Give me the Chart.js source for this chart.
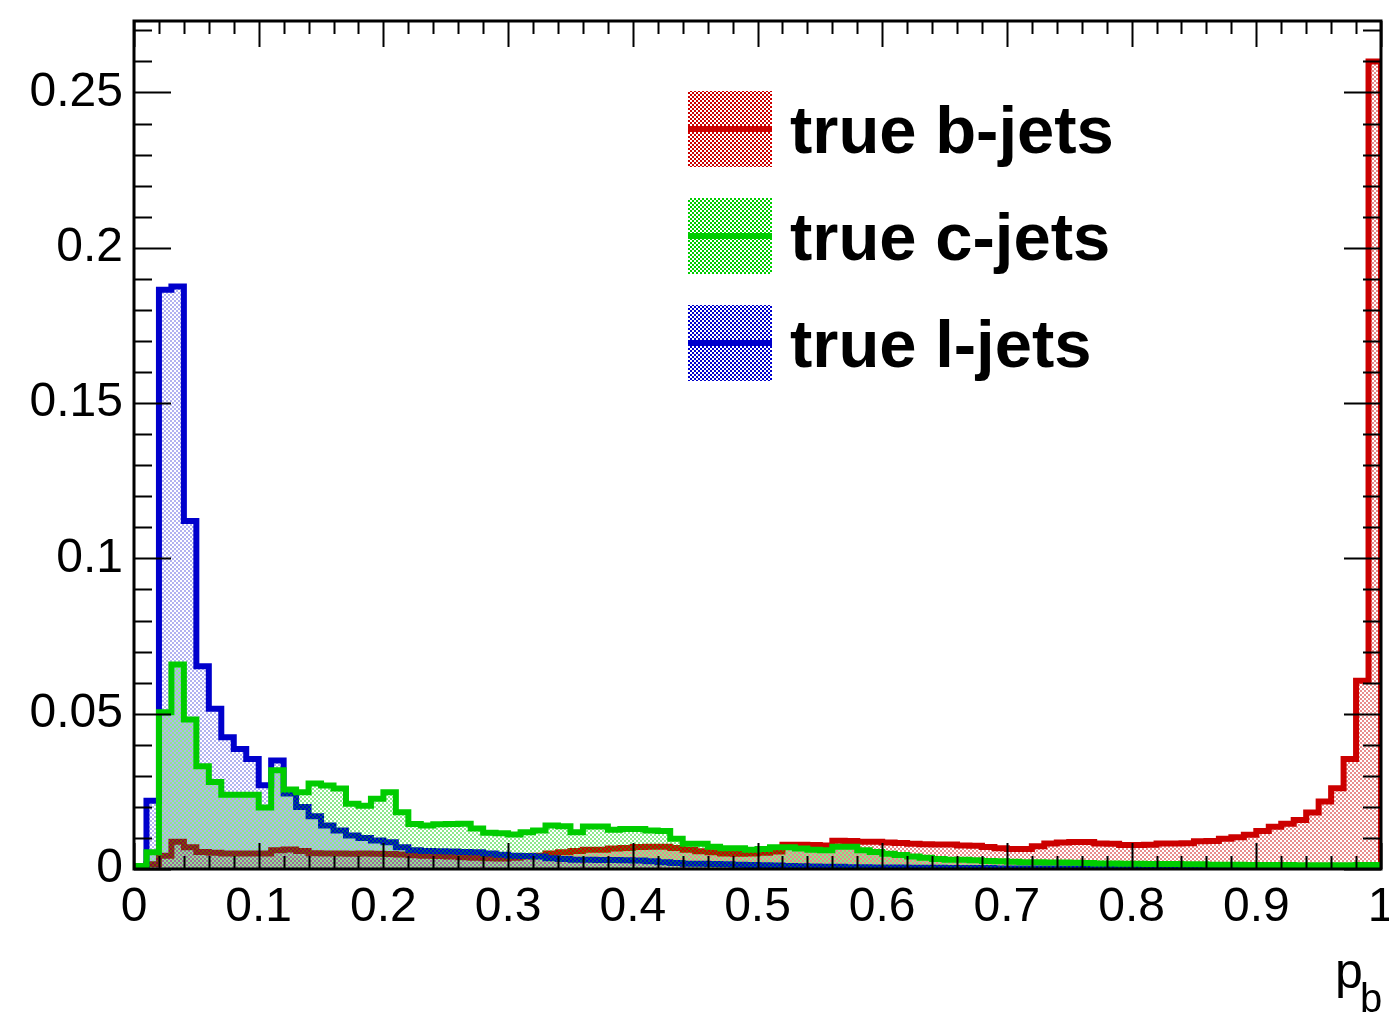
<!DOCTYPE html>
<html>
<head>
<meta charset="utf-8">
<title>p_b by jet flavour</title>
<script src="https://cdn.jsdelivr.net/npm/chart.js@4.4.1/dist/chart.umd.min.js"></script>
<style>
  html, body { margin: 0; padding: 0; background: #fff; }
  #wrap { width: 1389px; height: 1015px; }
</style>
</head>
<body>
<div id="wrap"><canvas id="hist"></canvas></div>
<script>
// p_b distributions for each true jet flavour, 100 bins on [0, 1], unit area
const xMin = 0, xMax = 1, nBins = 100;

const bJets = [
  0.0000, 0.0015, 0.0043, 0.0088, 0.0070, 0.0055, 0.0052, 0.0050, 0.0050, 0.0050,
  0.0050, 0.0060, 0.0063, 0.0058, 0.0051, 0.0050, 0.0050, 0.0049, 0.0050, 0.0049,
  0.0048, 0.0047, 0.0044, 0.0043, 0.0042, 0.0040, 0.0038, 0.0036, 0.0035, 0.0034,
  0.0036, 0.0040, 0.0043, 0.0050, 0.0054, 0.0058, 0.0062, 0.0062, 0.0066, 0.0068,
  0.0071, 0.0072, 0.0072, 0.0068, 0.0062, 0.0057, 0.0054, 0.0050, 0.0049, 0.0050,
  0.0052, 0.0056, 0.0078, 0.0078, 0.0077, 0.0076, 0.0091, 0.0090, 0.0088, 0.0088,
  0.0085, 0.0084, 0.0081, 0.0080, 0.0079, 0.0079, 0.0076, 0.0075, 0.0071, 0.0067,
  0.0064, 0.0064, 0.0073, 0.0082, 0.0085, 0.0087, 0.0087, 0.0082, 0.0081, 0.0077,
  0.0077, 0.0078, 0.0082, 0.0082, 0.0083, 0.0089, 0.0090, 0.0097, 0.0102, 0.0110,
  0.0122, 0.0136, 0.0146, 0.0158, 0.0182, 0.0217, 0.0260, 0.0354, 0.0606, 0.2600
];

const cJets = [
  0.0010, 0.0054, 0.0505, 0.0658, 0.0481, 0.0331, 0.0280, 0.0239, 0.0239, 0.0239,
  0.0198, 0.0318, 0.0256, 0.0247, 0.0275, 0.0269, 0.0259, 0.0210, 0.0204, 0.0226,
  0.0247, 0.0183, 0.0145, 0.0140, 0.0144, 0.0145, 0.0146, 0.0130, 0.0117, 0.0115,
  0.0111, 0.0118, 0.0124, 0.0140, 0.0138, 0.0118, 0.0137, 0.0137, 0.0126, 0.0129,
  0.0129, 0.0124, 0.0122, 0.0097, 0.0081, 0.0081, 0.0072, 0.0067, 0.0067, 0.0062,
  0.0064, 0.0070, 0.0070, 0.0066, 0.0062, 0.0060, 0.0072, 0.0072, 0.0060, 0.0055,
  0.0049, 0.0045, 0.0040, 0.0036, 0.0032, 0.0030, 0.0030, 0.0028, 0.0026, 0.0025,
  0.0023, 0.0022, 0.0022, 0.0021, 0.0021, 0.0020, 0.0019, 0.0018, 0.0018, 0.0017,
  0.0017, 0.0016, 0.0016, 0.0016, 0.0015, 0.0015, 0.0014, 0.0014, 0.0014, 0.0013,
  0.0013, 0.0013, 0.0013, 0.0012, 0.0012, 0.0012, 0.0012, 0.0012, 0.0013, 0.0013
];

const lJets = [
  0.0005, 0.0220, 0.1865, 0.1875, 0.1120, 0.0653, 0.0516, 0.0424, 0.0386, 0.0354,
  0.0270, 0.0349, 0.0243, 0.0200, 0.0170, 0.0140, 0.0124, 0.0108, 0.0100, 0.0092,
  0.0086, 0.0070, 0.0060, 0.0058, 0.0057, 0.0056, 0.0055, 0.0054, 0.0050, 0.0046,
  0.0043, 0.0042, 0.0040, 0.0035, 0.0032, 0.0030, 0.0030, 0.0029, 0.0029, 0.0028,
  0.0027, 0.0025, 0.0022, 0.0019, 0.0017, 0.0017, 0.0016, 0.0015, 0.0014, 0.0013,
  0.0012, 0.0011, 0.0010, 0.0009, 0.0008, 0.0007, 0.0007, 0.0006, 0.0006, 0.0005,
  0.0005, 0.0005, 0.0004, 0.0004, 0.0004, 0.0003, 0.0003, 0.0003, 0.0003, 0.0002,
  0.0002, 0.0002, 0.0002, 0.0002, 0.0002, 0.0002, 0.0001, 0.0001, 0.0001, 0.0001,
  0.0001, 0.0001, 0.0001, 0.0001, 0.0001, 0.0001, 0.0001, 0.0001, 0.0001, 0.0001,
  0.0001, 0.0001, 0.0001, 0.0001, 0.0001, 0.0001, 0.0001, 0.0001, 0.0001, 0.0001
];

const seriesLabels = ['true b-jets', 'true c-jets', 'true l-jets'];
const seriesColors = ['#cc0000', '#00cc00', '#0000cc'];

const xTicks = [0, 0.1, 0.2, 0.3, 0.4, 0.5, 0.6, 0.7, 0.8, 0.9, 1];
const xTickLabels = ['0', '0.1', '0.2', '0.3', '0.4', '0.5', '0.6', '0.7', '0.8', '0.9', '1'];
const yTicks = [0, 0.05, 0.1, 0.15, 0.2, 0.25];
const yTickLabels = ['0', '0.05', '0.1', '0.15', '0.2', '0.25'];
const yMax = 0.273;

const FONT = '"Liberation Sans", Arial, Helvetica, sans-serif';
Chart.defaults.font.family = FONT;
Chart.defaults.color = '#000';

const canvas = document.getElementById('hist');
const mainCtx = canvas.getContext('2d');

// ROOT-like dotted fill: 2px checker, coloured cells on transparent
function checker(color, alpha, shift) {
  const c = document.createElement('canvas');
  c.width = 4; c.height = 4;
  const g = c.getContext('2d');
  g.globalAlpha = alpha;
  g.fillStyle = color;
  g.fillRect(shift, 0, 2, 2);
  g.fillRect((shift + 2) % 4, 2, 2, 2);
  return mainCtx.createPattern(c, 'repeat');
}

// bin low edges + closing point so the outline drops back to zero at xMax
function histPoints(values) {
  const w = (xMax - xMin) / nBins;
  const pts = values.map((v, i) => ({ x: xMin + i * w, y: v }));
  pts.push({ x: xMax, y: 0 });
  return pts;
}

const series = [bJets, cJets, lJets];
const drawOrder = [3, 1, 2];   // c-jets on top, then l-jets, b-jets underneath
const fillAlpha = [0.45, 0.45, 0.3];
const fillShift = [2, 0, 2];

const datasets = series.map((vals, i) => ({
  label: seriesLabels[i],
  data: histPoints(vals),
  borderColor: seriesColors[i],
  backgroundColor: checker(seriesColors[i], fillAlpha[i], fillShift[i]),
  legendFill: checker(seriesColors[i], 1, 0),
  borderWidth: 6,
  borderJoinStyle: 'miter',
  borderCapStyle: 'butt',
  stepped: true,
  fill: 'origin',
  pointRadius: 0,
  order: drawOrder[i],
  clip: 0
}));

// frame with inward ticks on all four sides
const rootFrame = {
  id: 'rootFrame',
  afterDatasetsDraw(chart) {
    const { ctx, chartArea: a, scales: { x, y } } = chart;
    ctx.save();
    ctx.strokeStyle = '#000';
    ctx.lineWidth = 2;
    ctx.beginPath();
    for (let k = 0; k <= 50; k++) {
      const px = Math.round(x.getPixelForValue(k * 0.02)) + 0.5;
      const len = k % 5 === 0 ? 26 : 13;
      ctx.moveTo(px, a.bottom); ctx.lineTo(px, a.bottom - len);
      ctx.moveTo(px, a.top); ctx.lineTo(px, a.top + len);
    }
    for (let k = 0; k <= 27; k++) {
      const py = Math.round(y.getPixelForValue(k * 0.01)) + 0.5;
      const len = k % 5 === 0 ? 37 : 18;
      ctx.moveTo(a.left, py); ctx.lineTo(a.left + len, py);
      ctx.moveTo(a.right, py); ctx.lineTo(a.right - len, py);
    }
    ctx.stroke();
    ctx.lineWidth = 3;
    ctx.strokeRect(a.left, a.top, a.width, a.height);
    ctx.restore();
  }
};

// legend block and axis title
const flavourLegend = {
  id: 'flavourLegend',
  afterDraw(chart) {
    const ctx = chart.ctx;
    const boxX = 688, boxW = 84, boxH = 76;
    const rowTop = [91, 198, 305];
    ctx.save();
    chart.data.datasets.forEach((ds, i) => {
      const top = rowTop[i];
      ctx.fillStyle = ds.legendFill;
      ctx.fillRect(boxX, top, boxW, boxH);
      ctx.strokeStyle = ds.borderColor;
      ctx.lineWidth = 6;
      ctx.beginPath();
      ctx.moveTo(boxX, top + boxH / 2);
      ctx.lineTo(boxX + boxW, top + boxH / 2);
      ctx.stroke();
      ctx.fillStyle = '#000';
      ctx.font = 'bold 67px ' + FONT;
      ctx.textBaseline = 'alphabetic';
      ctx.textAlign = 'left';
      ctx.fillText(ds.label, 790, top + 62);
    });

    ctx.fillStyle = '#000';
    ctx.textAlign = 'left';
    ctx.font = '50px ' + FONT;
    ctx.fillText('p', 1335, 988);
    ctx.font = '40px ' + FONT;
    ctx.fillText('b', 1360, 1012);
    ctx.restore();
  }
};

new Chart(canvas, {
  type: 'line',
  data: { datasets },
  options: {
    responsive: true,
    maintainAspectRatio: false,
    animation: false,
    layout: { padding: { top: 21, right: 8, left: 0, bottom: 0 } },
    plugins: {
      legend: { display: false },
      tooltip: { enabled: false }
    },
    scales: {
      x: {
        type: 'linear',
        min: xMin,
        max: xMax,
        grid: { display: false },
        border: { display: false },
        afterBuildTicks: s => { s.ticks = xTicks.map(v => ({ value: v })); },
        afterFit: s => { s.height = 146; s.paddingLeft = 0; s.paddingRight = 0; },
        ticks: {
          autoSkip: false,
          maxRotation: 0,
          padding: 2,
          font: { size: 48 },
          callback: (v, i) => xTickLabels[i]
        }
      },
      y: {
        type: 'linear',
        min: 0,
        max: yMax,
        grid: { display: false },
        border: { display: false },
        afterBuildTicks: s => { s.ticks = yTicks.map(v => ({ value: v })); },
        afterFit: s => { s.width = 134; s.paddingTop = 0; s.paddingBottom = 0; },
        ticks: {
          padding: 3,
          font: { size: 48 },
          callback: (v, i) => yTickLabels[i]
        }
      }
    }
  },
  plugins: [rootFrame, flavourLegend]
});
</script>
</body>
</html>
